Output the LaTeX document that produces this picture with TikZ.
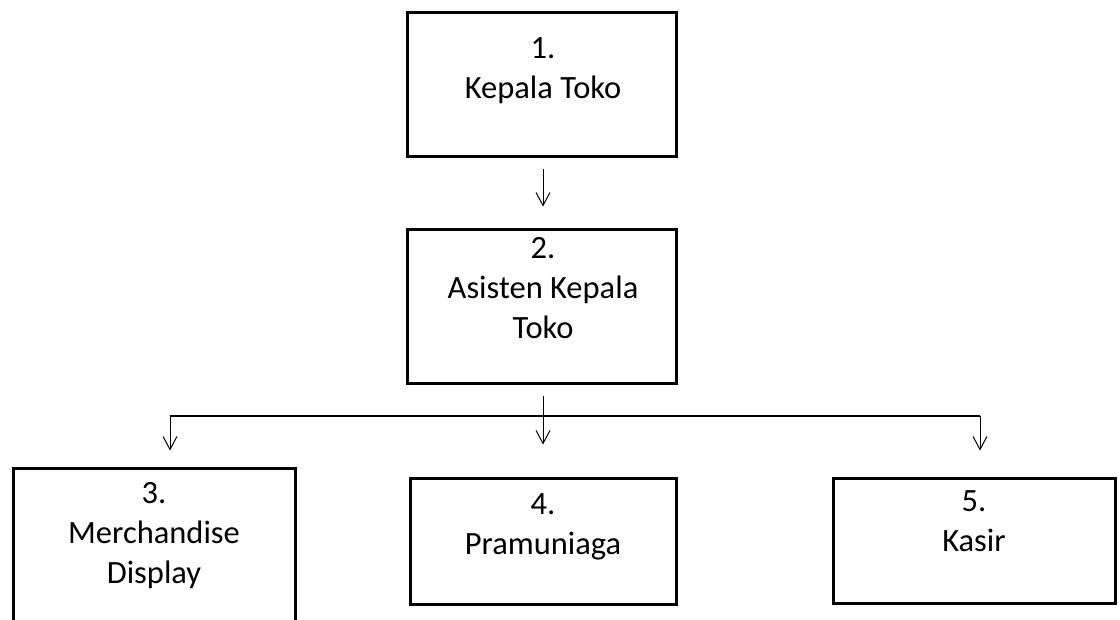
\documentclass[tikz,border=0pt]{standalone}
\usepackage{fontspec}
\setmainfont{Carlito}
\usetikzlibrary{arrows.meta}
\begin{document}
\begin{tikzpicture}[x=1pt,y=-1pt,
  boxst/.style={draw=black,line width=3pt,inner sep=0pt},
  lbl/.style={anchor=north,align=center,inner sep=0pt,font=\fontsize{32.5}{40}\selectfont},
  arr/.style={draw=black,line width=1pt,-{Straight Barb[length=13pt,width=14pt,line width=1pt]}},
  lin/.style={draw=black,line width=1.4pt}]
\useasboundingbox (0,0) rectangle (1120,620);
\fill[white] (0,0) rectangle (1120,620);
% boxes
\node[boxst,minimum width=269pt,minimum height=144pt] (b1) at (541.5,85) {};
\node[boxst,minimum width=269pt,minimum height=154pt] (b2) at (541.5,307) {};
\node[boxst,minimum width=282pt,minimum height=170pt] (b3) at (154,553) {};
\node[boxst,minimum width=266pt,minimum height=126pt] (b4) at (543,541) {};
\node[boxst,minimum width=282pt,minimum height=125pt] (b5) at (974,540.5) {};
% labels
\node[lbl] (t1) at (543,37) {1.\\Kepala Toko};
\node[lbl] (t2) at (543,237) {2.\\Asisten Kepala\\Toko};
\node[lbl] (t3) at (154,482) {3.\\Merchandise\\Display};
\node[lbl] (t4) at (543,493) {4.\\Pramuniaga};
\node[lbl] (t5) at (974,490) {5.\\Kasir};
% connectors
\draw[arr,shorten <=11pt,shorten >=22pt] (b1.south -| 543,0) -- (b2.north -| 543,0);
\coordinate (jL) at (170,416);
\coordinate (jR) at (980,416);
\coordinate (jM) at (543,416);
\draw[arr,shorten <=11pt,shorten >=32pt] (b2.south -| jM) -- (b4.north -| jM);
\draw[lin] (jL) -- (jR);
\draw[arr,shorten >=16pt] (jL) -- (jL |- b3.north);
\draw[arr,shorten >=26pt] (jR) -- (jR |- b5.north);
\end{tikzpicture}
\end{document}
